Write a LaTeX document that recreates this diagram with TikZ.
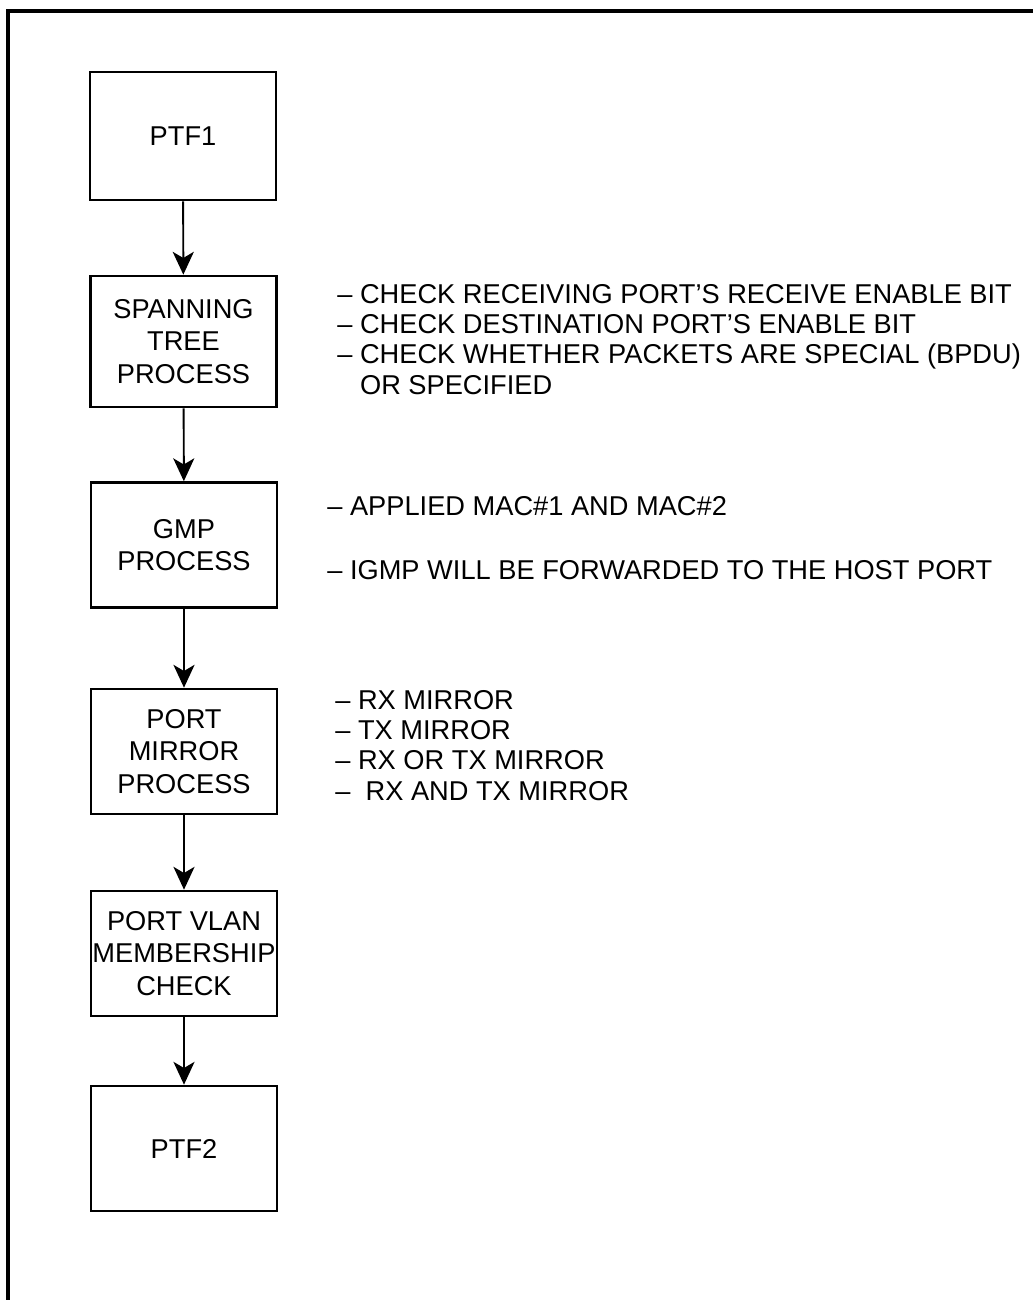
\documentclass[tikz,border=0pt]{standalone}
\usepackage{fontspec}
\setmainfont{Liberation Sans}
\usepackage{tikz}
\usetikzlibrary{arrows.meta}

\begin{document}
\begin{tikzpicture}[
    stage/.style={draw, line width=1.5pt, minimum width=3.72cm, minimum height=2.5cm,
      inner sep=0pt, align=center, font=\fontsize{15.5}{18.5}\selectfont},
    note/.style={anchor=base west, inner sep=0pt, align=left,
      font=\fontsize{15.5}{17.1}\selectfont},
    flow/.style={line width=1.1pt, -{Stealth[length=13pt,width=12pt,inset=3.5pt]}},
    frame/.style={line width=2.3pt}
  ]
      \useasboundingbox (0,0) rectangle (20.66,-26);
      \coordinate (frame-bl) at (0.16,-26);
      \coordinate (frame-tl) at (0.16,-0.22);
      \coordinate (frame-tr) at (20.66,-0.22);
      \draw[frame] (frame-bl) -- (frame-tl) -- (frame-tr);

      \node[stage, minimum height=2.56cm] (ptf-1)  at (3.66,-2.72)  {PTF1};
      \node[stage, minimum height=2.62cm] (stp)    at (3.67,-6.83)  {SPANNING\\TREE\\PROCESS};
      \node[stage] (gmp)    at (3.68,-10.9)  {GMP\\PROCESS};
      \node[stage] (mirror) at (3.68,-15.03) {PORT\\MIRROR\\PROCESS};
      \node[stage] (vlan)   at (3.68,-19.07) {PORT VLAN\\MEMBERSHIP\\CHECK};
      \node[stage] (ptf-2)  at (3.68,-22.97) {PTF2};

      \node[note] (stp-note) at (6.74,-7.88)
        {– CHECK RECEIVING PORT’S RECEIVE ENABLE BIT\\
         – CHECK DESTINATION PORT’S ENABLE BIT\\
         – CHECK WHETHER PACKETS ARE SPECIAL (BPDU)\\
         \phantom{– }OR SPECIFIED};
      \node[note] (gmp-note) at (6.54,-11.58)
        {– APPLIED MAC\#1 AND MAC\#2\\[0.66cm]
         – IGMP WILL BE FORWARDED TO THE HOST PORT};
      \node[note] (mirror-note) at (6.70,-16.0)
        {– RX MIRROR\\
         – TX MIRROR\\
         – RX OR TX MIRROR\\
         –\ \ RX AND TX MIRROR};

      \draw[flow] (ptf-1)  -- (stp);
      \draw[flow] (stp)    -- (gmp);
      \draw[flow] (gmp)    -- (mirror);
      \draw[flow] (mirror) -- (vlan);
      \draw[flow] (vlan)   -- (ptf-2);
    \end{tikzpicture}
\end{document}
